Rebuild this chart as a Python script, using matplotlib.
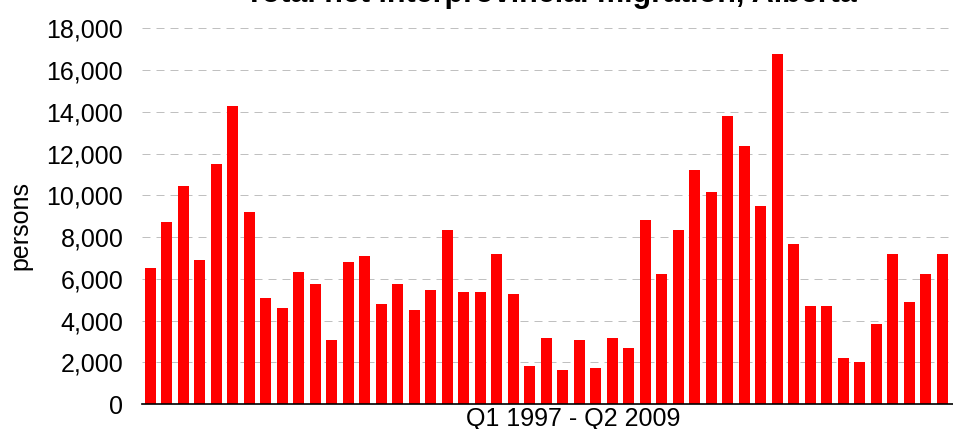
import matplotlib
matplotlib.use("Agg")
import matplotlib.pyplot as plt
from matplotlib.ticker import FuncFormatter

# quarters from Q1 1997 to Q2 2009
quarters = [f"Q{q} {y}" for y in range(1997, 2010) for q in range(1, 5)][:50]

# total net interprovincial migration (persons)
migration = [6500, 8700, 10450, 6900, 11500, 14300, 9200, 5080, 4600, 6330,
             5750, 3070, 6800, 7090, 4790, 5750, 4500, 5460, 8340, 5370,
             5370, 7190, 5270, 1820, 3160, 1630, 3070, 1730, 3160, 2680,
             8820, 6230, 8340, 11210, 10160, 13800, 12360, 9490, 16770, 7670,
             4700, 4700, 2200, 2010, 3830, 7190, 4890, 6230, 7190, 4700]

title = "Total net interprovincial migration, Alberta"
x_label = "Q1 1997 - Q2 2009"
y_label = "persons"

plt.rcParams['font.family'] = ['Liberation Sans', 'DejaVu Sans']
fs = 18

W, H = 954, 429
fig = plt.figure(figsize=(W / 100, H / 100), dpi=100)
ax_left = 142.0
ax = fig.add_axes([ax_left / W, 25 / H, 825 / W, 375.7 / H])

x = list(range(len(migration)))
ax.bar(x, migration, width=0.667, color="#ff0000", zorder=2)

ax.set_xlim(-0.5, len(migration) - 0.5)
ax.set_ylim(0, 18000)
ax.set_yticks(range(0, 18001, 2000))
ax.yaxis.set_major_formatter(FuncFormatter(lambda v, p: f"{int(v):,}"))
ax.set_xticks([])
ax.tick_params(axis="y", length=0, pad=13.5, labelsize=fs)

ax.yaxis.grid(True, color="#c0c0c0", linewidth=0.72, linestyle=(0, (8, 6)), zorder=1)
ax.set_axisbelow(True)

for s in ["top", "right", "left"]:
    ax.spines[s].set_visible(False)
ax.spines["bottom"].set_color("black")
ax.spines["bottom"].set_linewidth(1.2)
ax.spines["bottom"].set_zorder(3)

ax.set_xlabel(x_label, fontsize=fs)
ax.xaxis.set_label_coords((573 - ax_left) / 825, -3 / 375.7)
ax.xaxis.label.set_va("top")

ax.set_ylabel(y_label, fontsize=fs)
ax.yaxis.set_label_coords((32 - ax_left) / 825, (404 - 225) / 375.7)

fig.text(551 / W, 1 - 2 / H, title, ha="center", va="baseline",
         fontsize=22, fontweight="bold")

fig.savefig("out.png", dpi=100)
